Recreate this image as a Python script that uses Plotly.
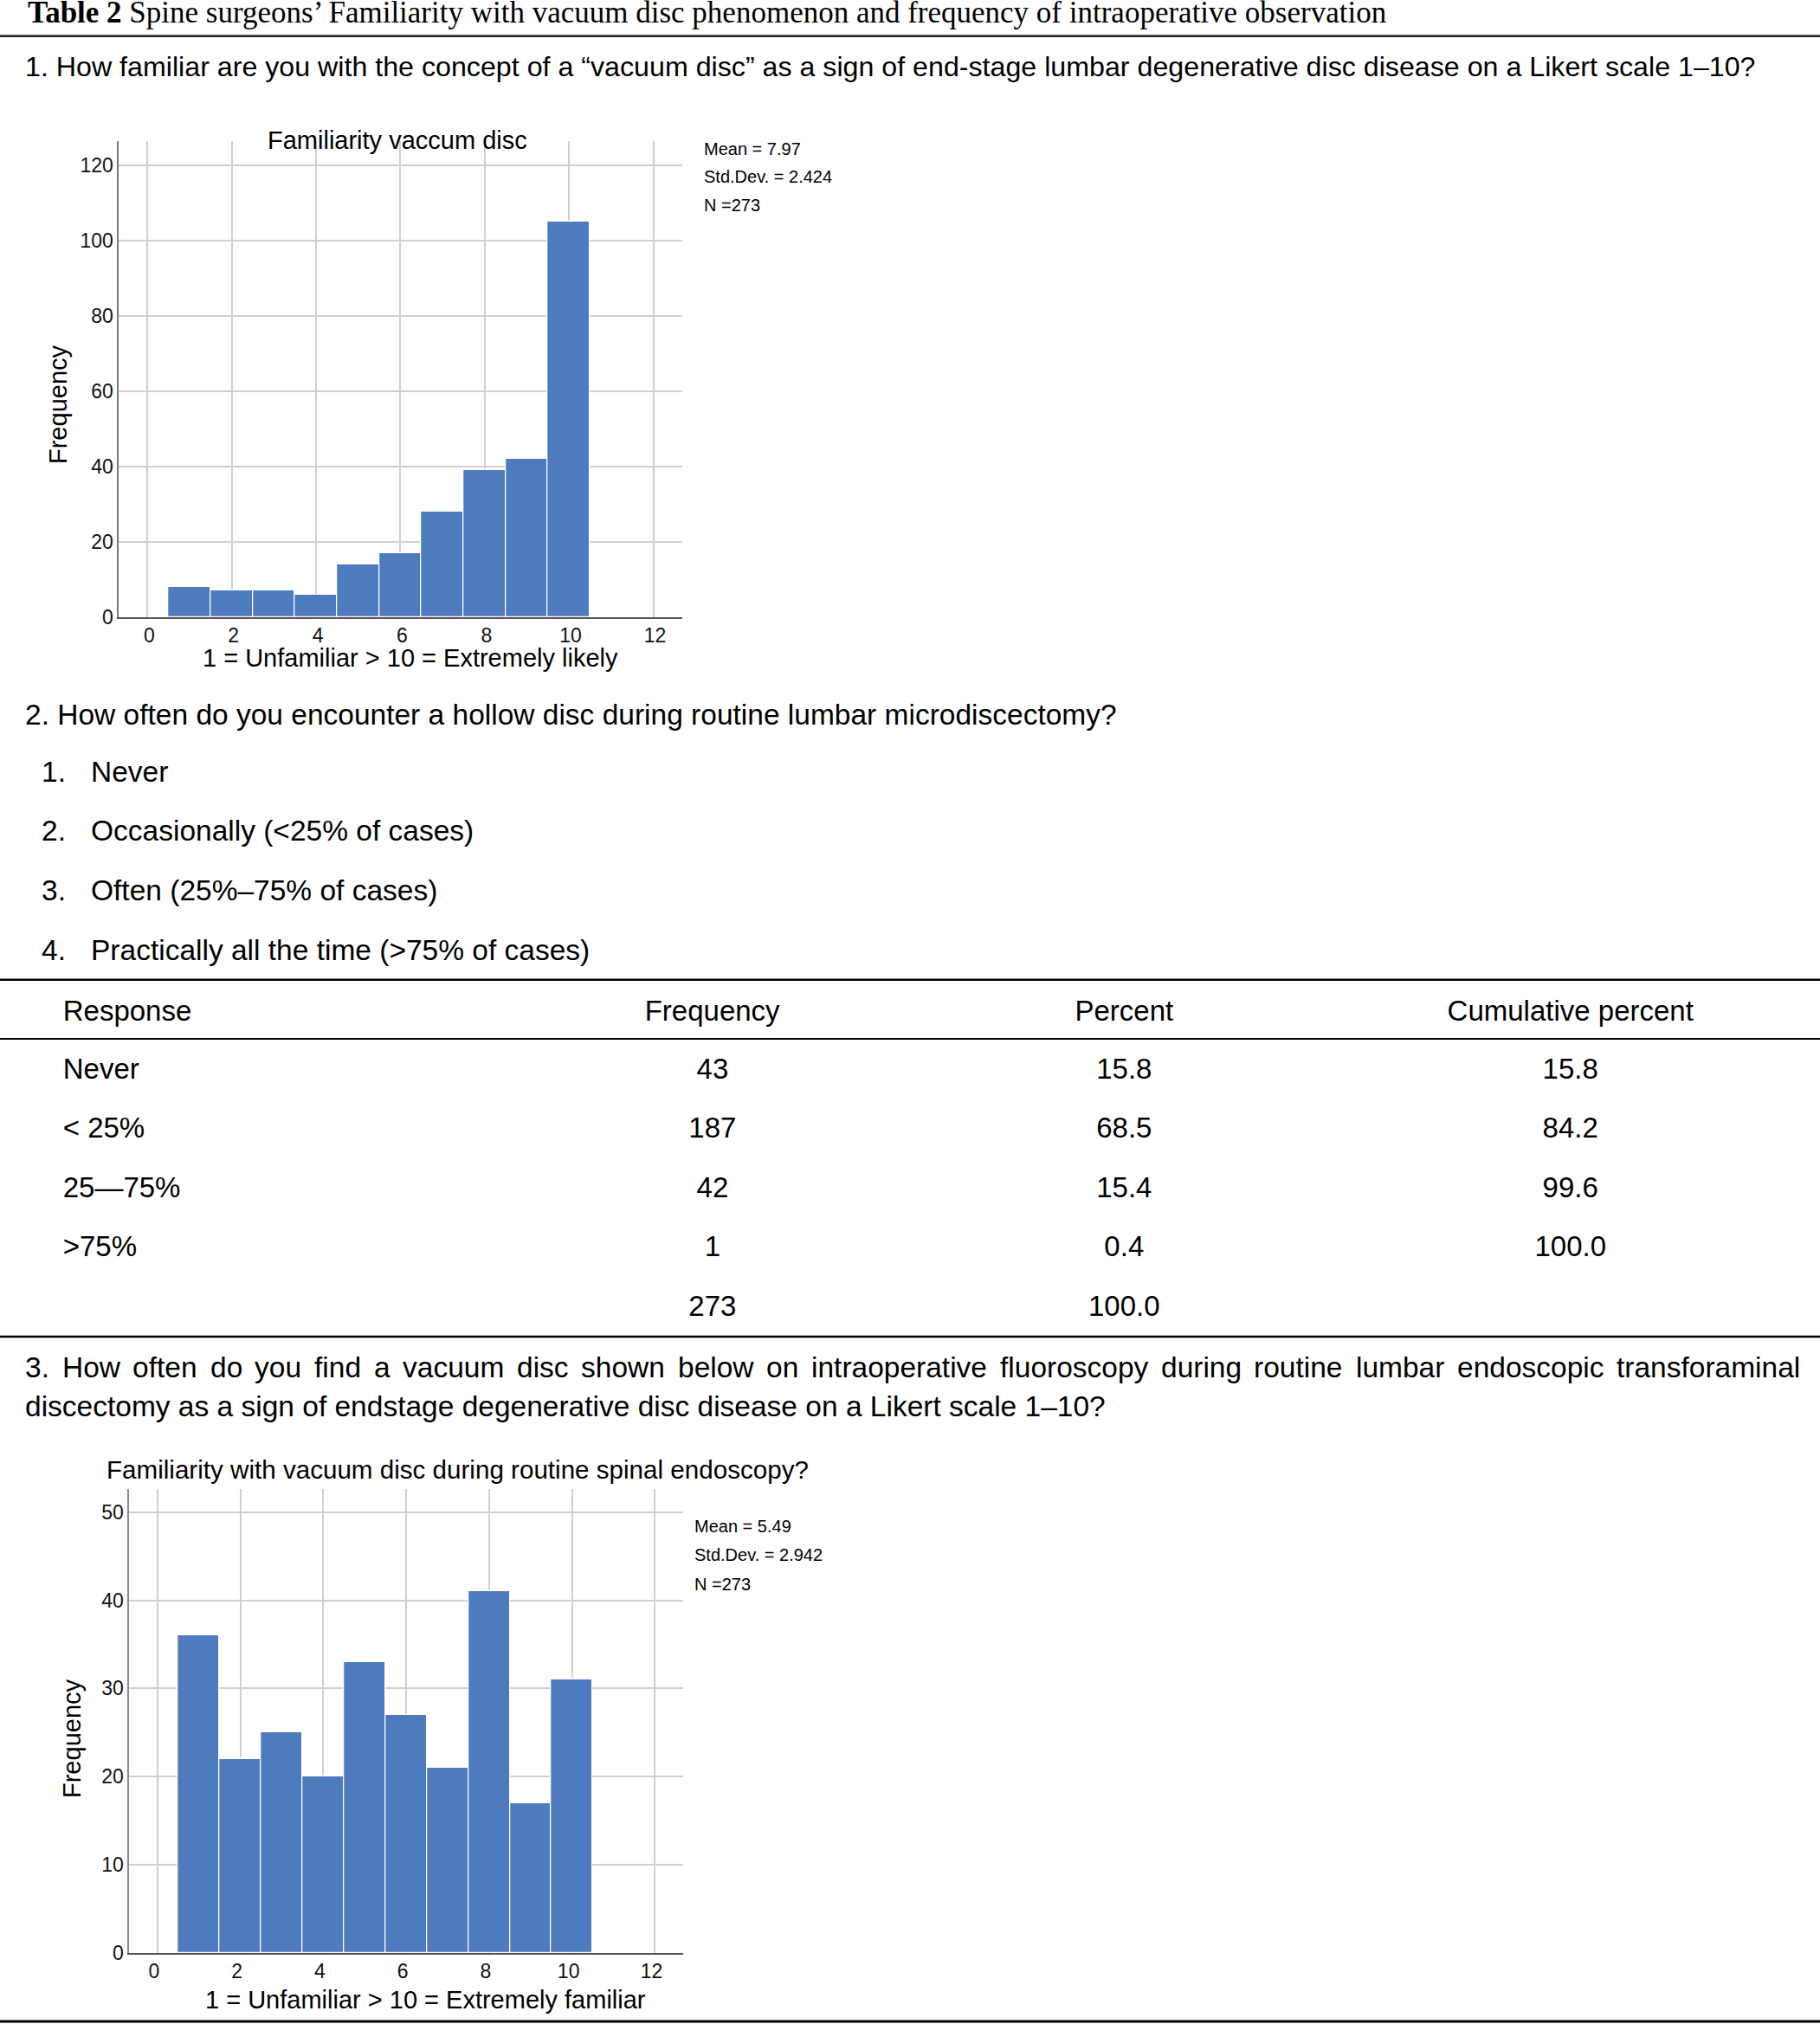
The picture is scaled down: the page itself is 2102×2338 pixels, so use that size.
import plotly.graph_objects as go

W, H = 2102, 2338

# ---------------- data ----------------
scores = [1, 2, 3, 4, 5, 6, 7, 8, 9, 10]
familiarity_freq = [8, 7, 7, 6, 14, 17, 28, 39, 42, 105]
endoscopy_freq = [36, 22, 25, 20, 33, 27, 21, 41, 17, 31]
x_ticks = [0, 2, 4, 6, 8, 10, 12]
stats1 = ["Mean = 7.97", "Std.Dev. = 2.424", "N =273"]
stats2 = ["Mean = 5.49", "Std.Dev. = 2.942", "N =273"]

table_header = ["Response", "Frequency", "Percent", "Cumulative percent"]
responses = ["Never", "< 25%", "25\u201475%", ">75%", ""]
resp_freq = ["43", "187", "42", "1", "273"]
resp_pct = ["15.8", "68.5", "15.4", "0.4", "100.0"]
resp_cum = ["15.8", "84.2", "99.6", "100.0", ""]

q2_numbers = ["1.", "2.", "3.", "4."]
q2_options = ["Never", "Occasionally (<25% of cases)",
              "Often (25%\u201375% of cases)",
              "Practically all the time (>75% of cases)"]

title_bold = "Table 2"
title_rest = " Spine surgeons\u2019 Familiarity with vacuum disc phenomenon and frequency of intraoperative observation"
q1_text = ("1. How familiar are you with the concept of a \u201cvacuum disc\u201d as a sign of "
           "end-stage lumbar degenerative disc disease on a Likert scale 1\u201310?")
q2_text = "2. How often do you encounter a hollow disc during routine lumbar microdiscectomy?"
q3_line1 = ("3. How often do you find a vacuum disc shown below on intraoperative fluoroscopy "
            "during routine lumbar endoscopic transforaminal")
q3_line2 = "discectomy as a sign of endstage degenerative disc disease on a Likert scale 1\u201310?"
chart1_title = "Familiarity vaccum disc"
chart2_title = "Familiarity with vacuum disc during routine spinal endoscopy?"
chart1_xlabel = "1 = Unfamiliar > 10 = Extremely likely"
chart2_xlabel = "1 = Unfamiliar > 10 = Extremely familiar"
ylabel = "Frequency"

# ---------------- helpers ----------------
SANS = "Liberation Sans, Arial, Helvetica, sans-serif"
SERIF = "Liberation Serif, Times New Roman, serif"
BAR = "rgb(78,123,190)"
GRID = "rgb(208,208,208)"


def px(x):
    return x / W


def py(y):
    return 1 - y / H


ARIAL = {
    '0': 556, '1': 556, '2': 556, '3': 556, '4': 556, '5': 556, '6': 556, '7': 556, '8': 556, '9': 556,
    '.': 278, ',': 278, '?': 556, ' ': 278, 'H': 722, 'L': 556,
    'a': 556, 'b': 556, 'c': 500, 'd': 556, 'e': 556, 'f': 278, 'g': 556, 'h': 556, 'i': 222,
    'j': 222, 'k': 500, 'l': 222, 'm': 833, 'n': 556, 'o': 556, 'p': 556, 'q': 556, 'r': 333,
    's': 500, 't': 278, 'u': 556, 'v': 500, 'w': 722, 'x': 500, 'y': 500, 'z': 500,
}


def text_w(s, size):
    return sum(ARIAL.get(c, 556) for c in s) / 1000 * size


def esc(s):
    return "<span>" + s.replace("<", "&lt;").replace(">", "&gt;") + "</span>"


annotations = []


def add_text(text, x, y, size, xanchor="left", family=SANS, angle=0, color="black"):
    annotations.append(dict(
        text=text, x=px(x), y=py(y), xref="paper", yref="paper",
        xanchor=xanchor, yanchor="middle", showarrow=False, textangle=angle,
        font=dict(family=family, size=size, color=color)))


# ---------------- figure ----------------
fig = go.Figure()

fig.add_trace(go.Bar(x=scores, y=familiarity_freq, width=1, xaxis="x", yaxis="y",
                     marker=dict(color=BAR, line=dict(color="white", width=1.3)),
                     showlegend=False, hoverinfo="x+y"))
fig.add_trace(go.Bar(x=scores, y=endoscopy_freq, width=1, xaxis="x2", yaxis="y2",
                     marker=dict(color=BAR, line=dict(color="white", width=1.3)),
                     showlegend=False, hoverinfo="x+y"))

# table
hdr_h, row_h = 67, 68.6
tbl_top = 1140.5
tbl_font = dict(family=SANS, size=33, color="black")
fig.add_trace(go.Table(
    domain=dict(x=[px(64.7), px(2031)], y=[py(tbl_top + hdr_h + 5 * row_h + 40), py(tbl_top)]),
    columnwidth=[581.3, 354, 597, 434],
    header=dict(values=[esc(v) for v in table_header], height=hdr_h,
                align=["left", "center", "center", "center"],
                fill=dict(color="rgba(0,0,0,0)"), line=dict(color="rgba(0,0,0,0)", width=0),
                font=tbl_font),
    cells=dict(values=[[esc(v) for v in col] for col in (responses, resp_freq, resp_pct, resp_cum)],
               height=row_h,
               align=["left", "center", "center", "center"],
               fill=dict(color="rgba(0,0,0,0)"), line=dict(color="rgba(0,0,0,0)", width=0),
               font=tbl_font),
))

axis_common = dict(showgrid=True, gridcolor=GRID, gridwidth=1.6, zeroline=False,
                   showline=True, ticks="", automargin=False,
                   tickfont=dict(family=SANS, size=23, color="#111"))

fig.update_layout(
    width=W, height=H, margin=dict(l=0, r=0, t=0, b=0, pad=0, autoexpand=False),
    paper_bgcolor="white", plot_bgcolor="white", showlegend=False, bargap=0,
    xaxis=dict(domain=[px(137.3), px(787.6)], range=[-0.678, 12.68], tickvals=x_ticks,
               anchor="y", linecolor="#555", linewidth=1.6, ticklabelshift=2, **axis_common),
    yaxis=dict(domain=[py(712.7), py(163)], range=[0, 126.4], dtick=20, anchor="x",
               linecolor="#777", linewidth=1.8, **axis_common),
    xaxis2=dict(domain=[px(149.3), px(789)], range=[-0.679, 12.68], tickvals=x_ticks,
                anchor="y2", linecolor="#555", linewidth=1.6, ticklabelshift=-4, **axis_common),
    yaxis2=dict(domain=[py(2255.5), py(1720)], range=[0, 52.65], dtick=10, anchor="x2",
                linecolor="#888", linewidth=1.6, **axis_common),
)

# ---------------- text ----------------
add_text("<b>" + title_bold + "</b>" + title_rest, 30, 15, 35, family=SERIF)
add_text(q1_text, 27, 77, 32.2)
add_text(q2_text, 27, 825, 33.5)
for i, (n, opt) in enumerate(zip(q2_numbers, q2_options)):
    yy = 891 + i * 68.7
    add_text(n, 46, yy, 33.5)
    add_text(opt, 102.5, yy, 33.5)

# justified first line of question 3
q3_size = 33.5
words = q3_line1.split(" ")
left, right = 27, 2077
total = sum(text_w(w, q3_size) for w in words)
gap = (right - left - total) / (len(words) - 1)
xx = left
for w in words:
    add_text(w, xx, 1579, q3_size)
    xx += text_w(w, q3_size) + gap
add_text(q3_line2, 27, 1624.5, q3_size)

# chart 1 texts
add_text(chart1_title, 459, 162, 29, xanchor="center")
for i, s in enumerate(stats1):
    add_text(s, 810.7, 172 + i * 32.5, 20)
add_text(ylabel, 67, 467, 29, xanchor="center", angle=-90)
add_text(chart1_xlabel, 473.6, 760, 29, xanchor="center")

# chart 2 texts
add_text(chart2_title, 121, 1697, 29.6)
for i, s in enumerate(stats2):
    add_text(s, 800.4, 1763 + i * 33.4, 20)
add_text(ylabel, 83, 2008, 29, xanchor="center", angle=-90)
add_text(chart2_xlabel, 491, 2309.6, 29, xanchor="center")

fig.update_layout(annotations=annotations)

# ---------------- rules ----------------
shapes = []
for yy, wdt in [(41.7, 2.2), (1131.7, 2.6), (1200, 2.0), (1544, 2.6), (2335, 3.0)]:
    shapes.append(dict(type="line", xref="paper", yref="paper", x0=0, x1=1,
                       y0=py(yy), y1=py(yy), line=dict(color="black", width=wdt)))
fig.update_layout(shapes=shapes)

page_css = ("var d=document.documentElement,b=document.body;"
            "d.style.margin='0';b.style.margin='0';d.style.padding='0';b.style.padding='0';"
            "d.style.overflow='hidden';b.style.overflow='hidden';"
            "d.style.height='2338px';b.style.height='2338px';")
fig.write_html("out.html", config={"displayModeBar": False}, post_script=page_css)
